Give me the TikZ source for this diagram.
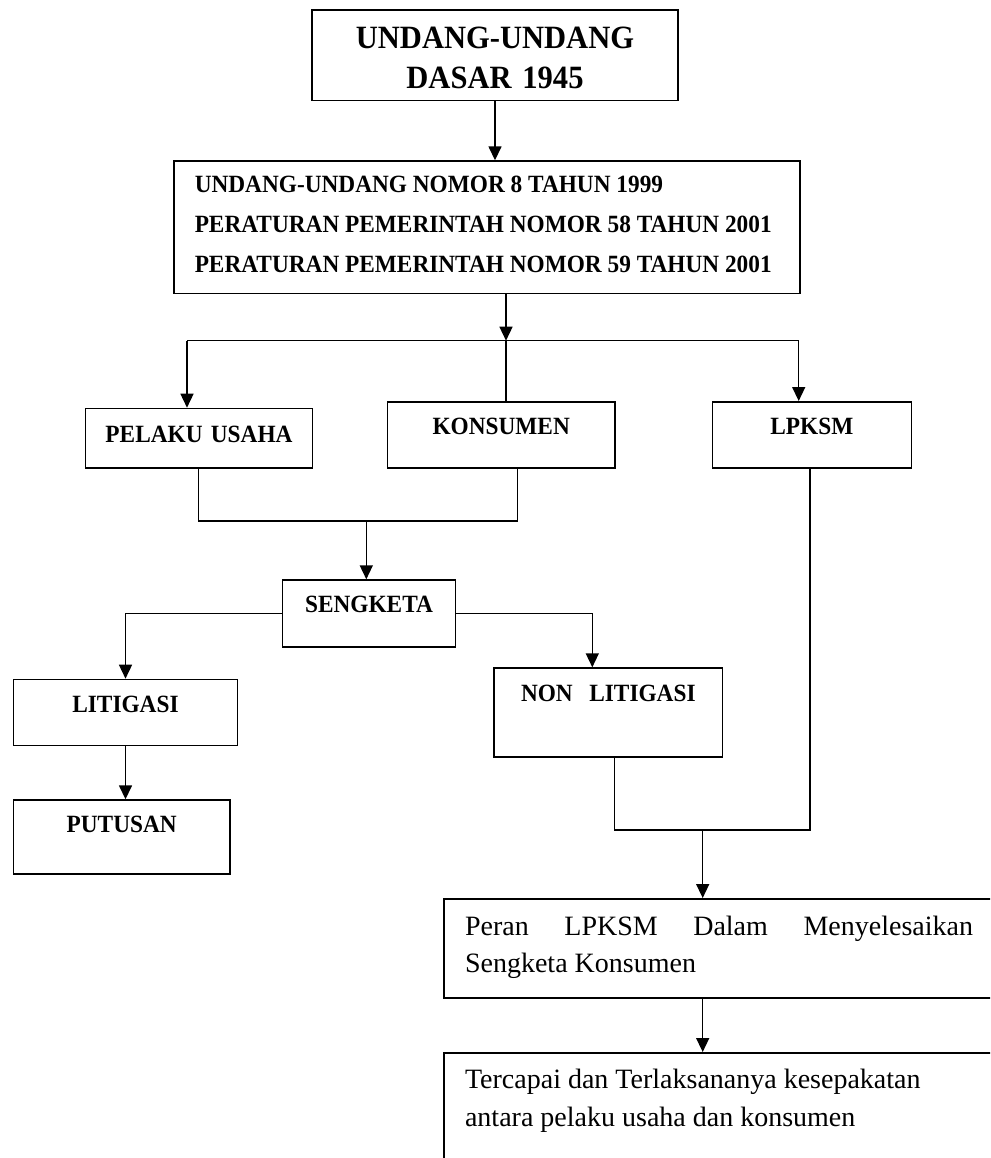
\documentclass[tikz,border=0pt]{standalone}
\usepackage{fontspec}
\setmainfont{Liberation Serif}
\newfontfamily\tebal[FakeStretch=0.94]{Liberation Serif}
\usepackage{tikz}
\usetikzlibrary{arrows.meta,positioning,calc}

\begin{document}
\begin{tikzpicture}[
    x=1pt, y=-1pt,
    kotak/.style={rectangle, draw, line width=1.5pt, inner xsep=0pt, inner ysep=0pt, anchor=north, align=center, font=\tebal\bfseries\fontsize{24.8}{40}\selectfont},
    teks/.style={rectangle, draw, line width=1.5pt, inner xsep=21pt, inner ysep=0pt, anchor=north west, text width=508pt, font=\fontsize{28}{37.5}\selectfont},
    panah/.style={-{Triangle[length=14pt, width=13pt]}, line width=1.5pt},
    garis/.style={line width=1.5pt},
]
    \useasboundingbox (0,0) rectangle (990,1158);
    \clip (0,0) rectangle (990,1158);

    \node[kotak, text width=366pt, text height=38.7pt, text depth=52pt, font=\tebal\bfseries\fontsize{32.5}{40}\selectfont] (uud) at (495,9.3) {UNDANG-UNDANG\\DASAR 1945};
    \node[kotak, anchor=north west, text width=584pt, inner xsep=21pt, align=flush left, text height=31.7pt, text depth=100.7pt] (uu) at (173,160.3) {UNDANG-UNDANG NOMOR 8 TAHUN 1999\\PERATURAN PEMERINTAH NOMOR 58 TAHUN 2001\\PERATURAN PEMERINTAH NOMOR 59 TAHUN 2001};

    \node[kotak, text width=226.6pt, text height=34pt, text depth=25.3pt] (pelaku) at (199,407.7) {PELAKU USAHA};
    \node[kotak, text width=227.7pt, text height=33pt, text depth=33pt] (konsumen) at (501.2,401) {KONSUMEN};
    \node[kotak, text width=199pt, text height=33pt, text depth=33pt] (lpksm) at (811.8,401) {LPKSM};
    \node[kotak, text width=173.4pt, text height=32.7pt, text depth=34pt] (sengketa) at (369,579.3) {SENGKETA};
    \node[kotak, text width=224.4pt, text height=33.3pt, text depth=32.7pt] (litigasi) at (125.5,678.7) {LITIGASI};
    \node[kotak, text width=228.7pt, text height=33.4pt, text depth=55.6pt] (nonlit) at (608.3,667.3) {NON\ \ LITIGASI};
    \node[kotak, text width=216.7pt, text height=32.4pt, text depth=41.3pt] (putusan) at (121.7,799.3) {PUTUSAN};

    \node[teks, align=justify, text height=36.7pt, text depth=62.6pt, execute at begin node={\tolerance=10000\hyphenpenalty=10000}] (peran) at (443.3,898) {Peran LPKSM Dalam Menyelesaikan Sengketa Konsumen};
    \node[teks, align=flush left, text height=36pt, text depth=150pt] (tercapai) at (443.3,1052) {Tercapai dan Terlaksananya kesepakatan\\antara pelaku usaha dan konsumen};

    \coordinate (cab) at (506,340.7);
    \coordinate (cabkiri) at (187,340.7);
    \coordinate (cabkanan) at (798.7,340.7);
    \coordinate (gkiri) at (198.7,521);
    \coordinate (gkanan) at (517.7,521);
    \coordinate (gabung) at (366.3,521);
    \coordinate (nl) at (592.3,611);
    \coordinate (tkiri) at (614.7,830);
    \coordinate (tkanan) at (810,830);
    \coordinate (temu) at (702.7,830);

    \draw[panah] (uud.south) -- (uud.south |- uu.north);
    \draw[panah] (cab |- uu.south) -- (cab);
    \draw[garis] (cabkiri) -- (cabkanan);
    \draw[panah] (cabkiri) -- (cabkiri |- pelaku.north);
    \draw[garis] (cab) -- (cab |- konsumen.north);
    \draw[panah] (cabkanan) -- (cabkanan |- lpksm.north);

    \draw[garis] (gkiri |- pelaku.south) -- (gkiri) -- (gkanan) -- (gkanan |- konsumen.south);
    \draw[panah] (gabung) -- (gabung |- sengketa.north);

    \draw[panah] (sengketa.west) -| (litigasi.north);
    \draw[panah] (sengketa.east) -| (nl |- nonlit.north);
    \draw[panah] (litigasi.south) -- (litigasi.south |- putusan.north);

    \draw[garis] (tkiri |- nonlit.south) -- (tkiri) -- (tkanan) -- (tkanan |- lpksm.south);
    \draw[panah] (temu) -- (temu |- peran.north);
    \draw[panah] (temu |- peran.south) -- (temu |- tercapai.north);
\end{tikzpicture}
\end{document}
